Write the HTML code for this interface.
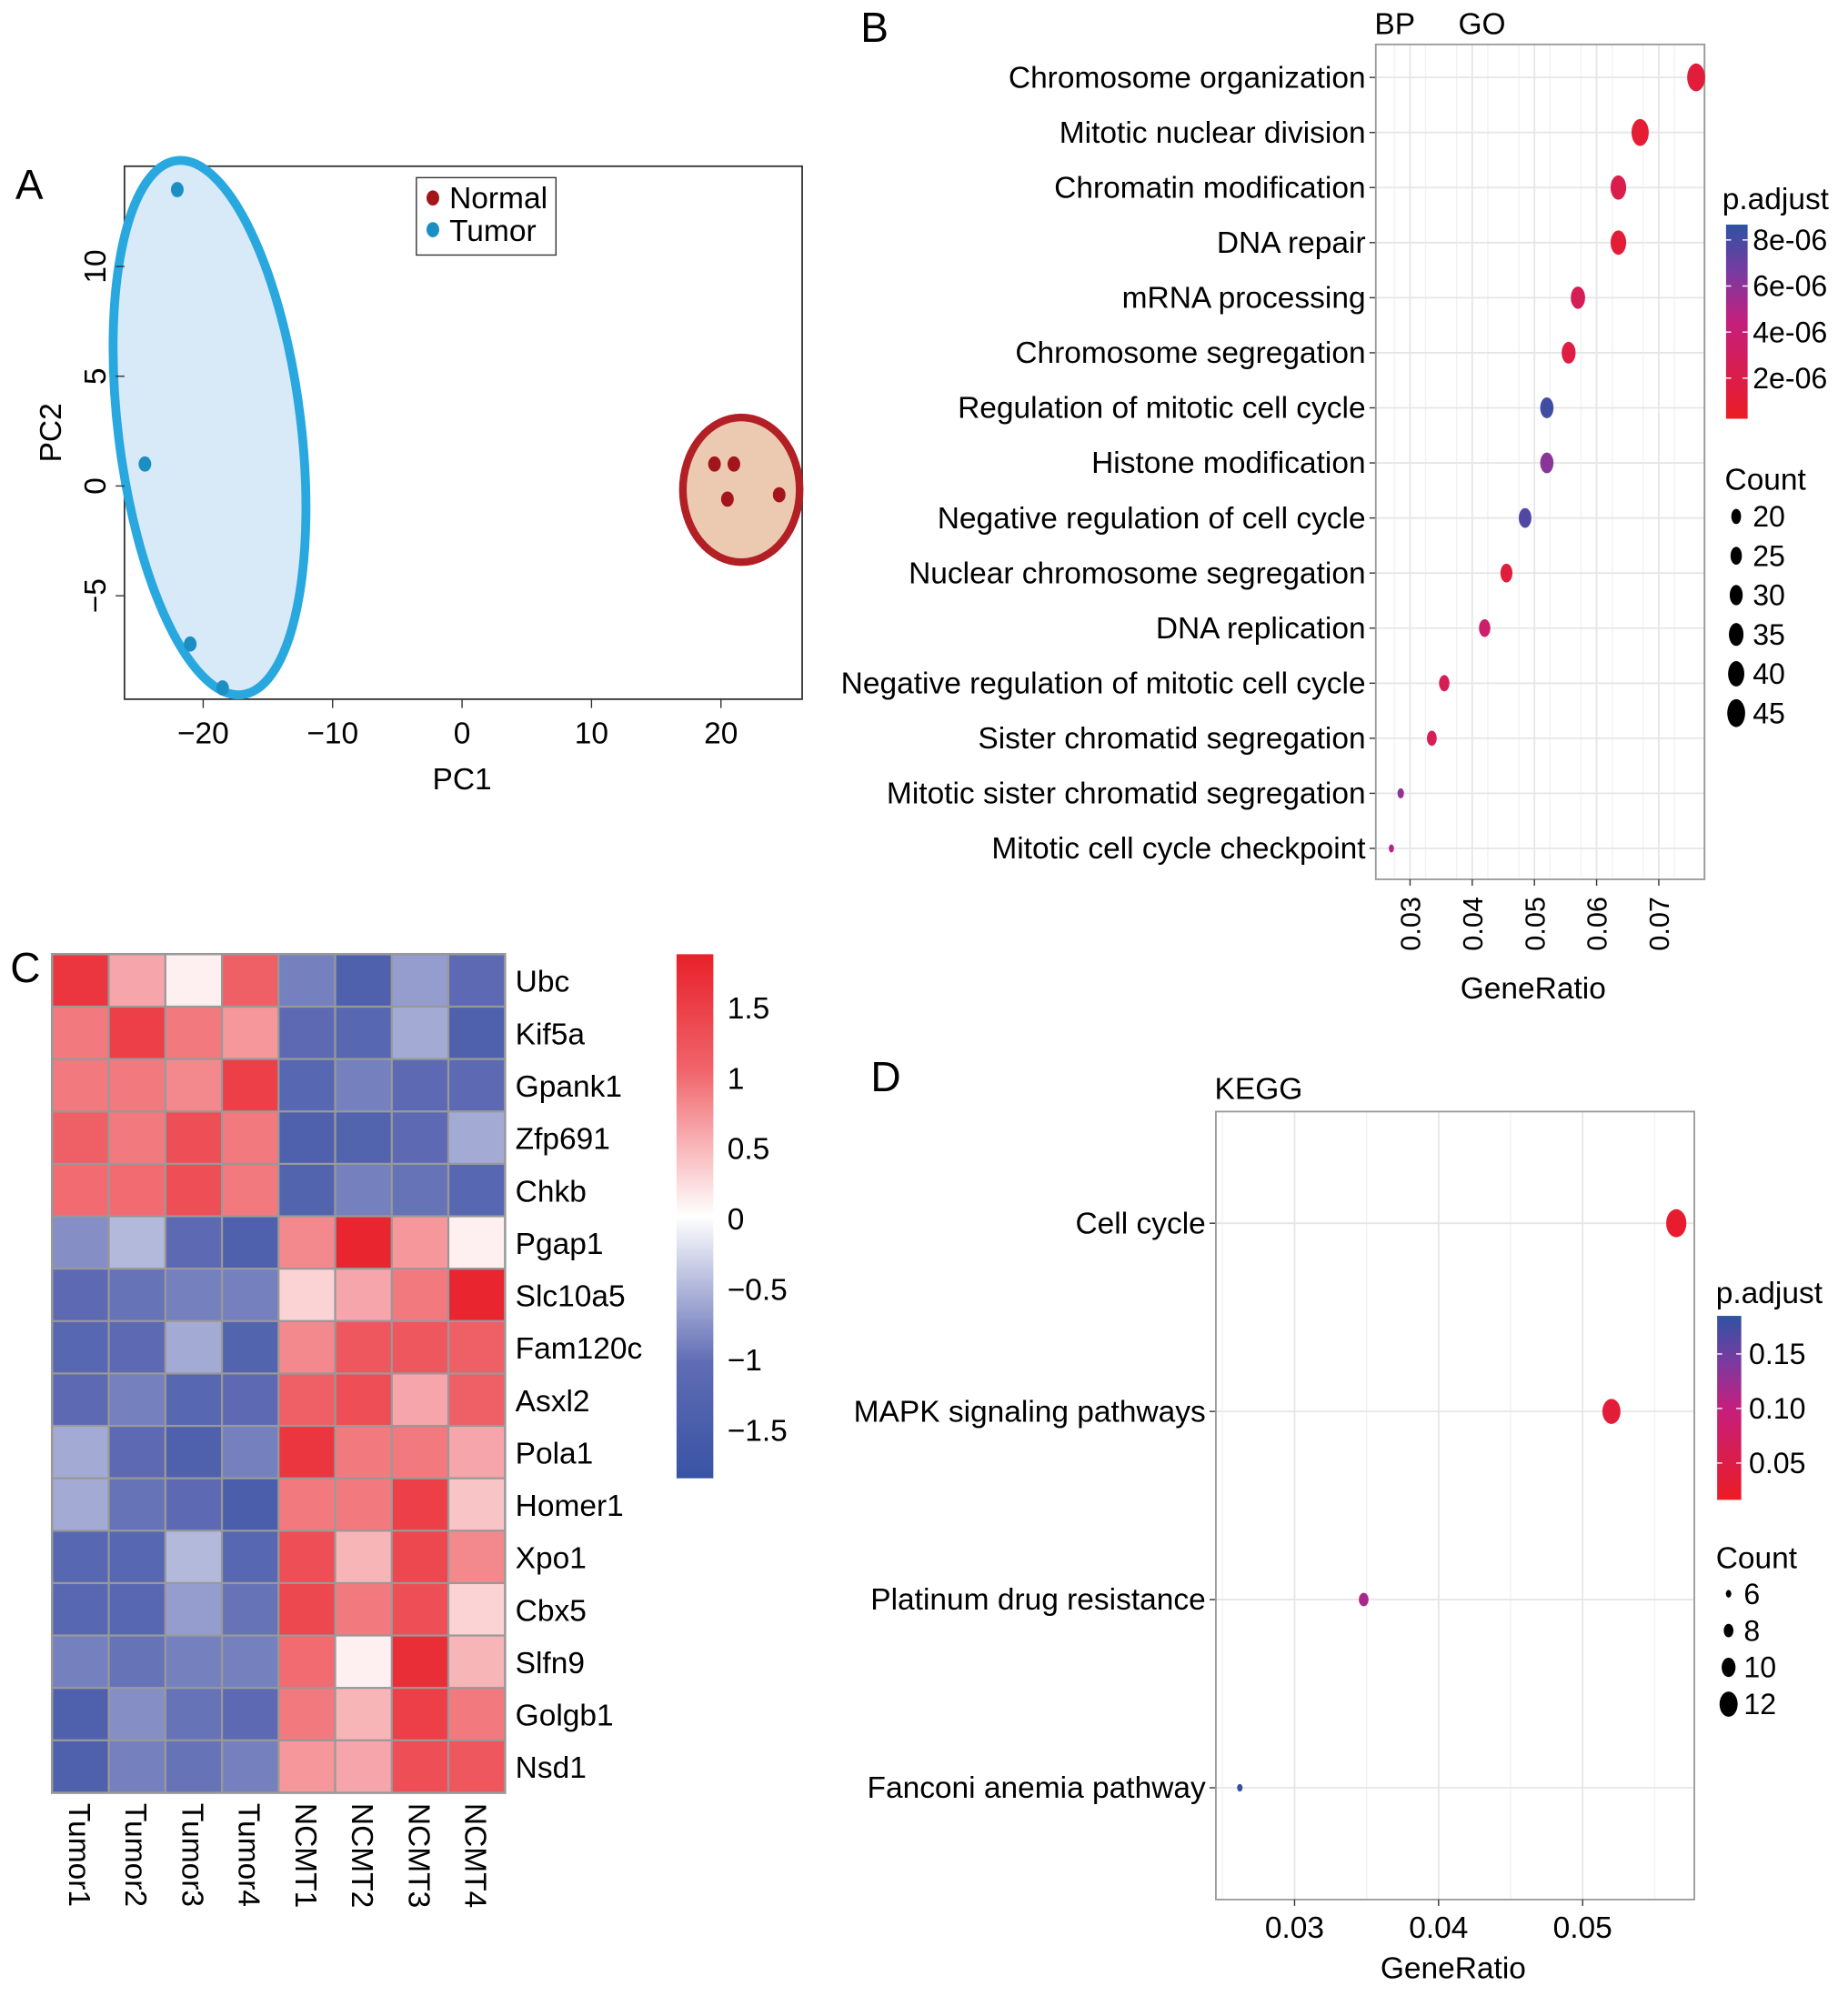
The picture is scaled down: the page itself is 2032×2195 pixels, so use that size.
<!DOCTYPE html>
<html><head><meta charset="utf-8"><style>
html,body{margin:0;padding:0;background:#fff;}
svg{display:block;font-family:"Liberation Sans",Arial,sans-serif;}
</style></head><body>
<svg id="fig" width="2032" height="2195" viewBox="0 0 1456 1573" xmlns="http://www.w3.org/2000/svg">
<defs>
<linearGradient id="gB" x1="0" y1="1" x2="0" y2="0"><stop offset="0" stop-color="#ec1c24"/><stop offset="0.5" stop-color="#c41f7e"/><stop offset="0.75" stop-color="#7a3aa0"/><stop offset="1" stop-color="#2f53a3"/></linearGradient>
<linearGradient id="gC" x1="0" y1="1" x2="0" y2="0"><stop offset="0" stop-color="#3953a4"/><stop offset="0.22" stop-color="#5f6cb4"/><stop offset="0.5" stop-color="#ffffff"/><stop offset="0.78" stop-color="#f0646a"/><stop offset="1" stop-color="#e8202a"/></linearGradient>
</defs>
<g id="panelA"></g>
<g id="panelB"></g>
<g id="panelC"></g>
<g id="panelD"></g>
</svg>
<script>
// ---------- Panel A data ----------
const pcaTumorX = [-22, -24.5, -21, -18.5];
const pcaTumorY = [13.5, 1, -7.2, -9.2];
const pcaNormalX = [19.5, 21, 20.5, 24.5];
const pcaNormalY = [1, 1, -0.6, -0.4];
const pcaXTicks = [-20, -10, 0, 10, 20];
const pcaYTicks = [-5, 0, 5, 10];
// ---------- Panel B data ----------
const goTerms = ["Chromosome organization","Mitotic nuclear division","Chromatin modification","DNA repair","mRNA processing","Chromosome segregation","Regulation of mitotic cell cycle","Histone modification","Negative regulation of cell cycle","Nuclear chromosome segregation","DNA replication","Negative regulation of mitotic cell cycle","Sister chromatid segregation","Mitotic sister chromatid segregation","Mitotic cell cycle checkpoint"];
const goRatio = [0.076,0.067,0.0635,0.0635,0.057,0.0555,0.052,0.052,0.0485,0.0455,0.042,0.0355,0.0335,0.0285,0.027];
const goCount = [45,43,38,38,34,33,31,31,29,27,25,22,20,10,6];
const goPadj = [1.2e-6,0.8e-6,2e-6,0.9e-6,2.5e-6,1.5e-6,8.5e-6,6.3e-6,8e-6,1.2e-6,3.5e-6,2.5e-6,2.5e-6,6e-6,5e-6];
const goXTicks = [0.03,0.04,0.05,0.06,0.07];
const goPTicks = [2e-6,4e-6,6e-6,8e-6];
const goCountLegend = [20,25,30,35,40,45];
// ---------- Panel C data ----------
const genes = ["Ubc","Kif5a","Gpank1","Zfp691","Chkb","Pgap1","Slc10a5","Fam120c","Asxl2","Pola1","Homer1","Xpo1","Cbx5","Slfn9","Golgb1","Nsd1"];
const samples = ["Tumor1","Tumor2","Tumor3","Tumor4","NCMT1","NCMT2","NCMT3","NCMT4"];
const heatRow0 = [1.6,0.6,0.1,1.1,-0.9,-1.4,-0.7,-1.1];
const heatRow1 = [0.9,1.5,0.9,0.7,-1.1,-1.2,-0.6,-1.4];
const heatRow2 = [0.9,0.9,0.8,1.5,-1.2,-0.9,-1.1,-1.1];
const heatRow3 = [1.1,0.9,1.3,0.9,-1.4,-1.3,-1.1,-0.6];
const heatRow4 = [1.0,1.0,1.3,0.9,-1.3,-0.9,-1.0,-1.2];
const heatRow5 = [-0.8,-0.5,-1.1,-1.4,0.8,1.8,0.7,0.1];
const heatRow6 = [-1.1,-1.0,-0.9,-0.9,0.3,0.6,0.9,1.8];
const heatRow7 = [-1.2,-1.1,-0.6,-1.3,0.8,1.2,1.2,1.1];
const heatRow8 = [-1.1,-0.9,-1.2,-1.1,1.1,1.3,0.6,1.1];
const heatRow9 = [-0.6,-1.1,-1.4,-0.9,1.6,0.9,0.9,0.6];
const heatRow10 = [-0.6,-1.0,-1.1,-1.5,0.9,0.9,1.5,0.4];
const heatRow11 = [-1.2,-1.2,-0.5,-1.2,1.3,0.5,1.4,0.8];
const heatRow12 = [-1.2,-1.2,-0.7,-1.0,1.4,0.9,1.3,0.3];
const heatRow13 = [-0.9,-1.0,-0.9,-0.9,1.0,0.1,1.7,0.5];
const heatRow14 = [-1.4,-0.8,-1.0,-1.1,0.9,0.5,1.5,0.9];
const heatRow15 = [-1.4,-0.9,-1.0,-0.9,0.7,0.6,1.3,1.2];
const heatTicks = [-1.5,-1,-0.5,0,0.5,1,1.5];
// ---------- Panel D data ----------
const keggTerms = ["Cell cycle","MAPK signaling pathways","Platinum drug resistance","Fanconi anemia pathway"];
const keggRatio = [0.0565,0.052,0.0348,0.0262];
const keggCount = [13,12,8,6];
const keggPadj = [0.01,0.02,0.11,0.18];
const keggXTicks = [0.03,0.04,0.05];
const keggPTicks = [0.05,0.10,0.15];
const keggCountLegend = [6,8,10,12];

const NS="http://www.w3.org/2000/svg";
const FS=24;
function mk(parent, tag, attrs, text){const e=document.createElementNS(NS,tag);for(const k in attrs)e.setAttribute(k,attrs[k]);if(text!==undefined)e.textContent=text;parent.appendChild(e);return e;}
function lerp(a,b,t){return a+(b-a)*t;}
function hex(c){return [parseInt(c.slice(1,3),16),parseInt(c.slice(3,5),16),parseInt(c.slice(5,7),16)];}
function mixStops(stops,t){t=Math.max(0,Math.min(1,t));for(let i=0;i<stops.length-1;i++){if(t<=stops[i+1][0]){const u=(t-stops[i][0])/(stops[i+1][0]-stops[i][0]);const a=hex(stops[i][1]),b=hex(stops[i+1][1]);return `rgb(${Math.round(lerp(a[0],b[0],u))},${Math.round(lerp(a[1],b[1],u))},${Math.round(lerp(a[2],b[2],u))})`;}}return stops[stops.length-1][1];}
const pStops=[[0,"#ec1c24"],[0.5,"#c41f7e"],[0.75,"#7a3aa0"],[1,"#2f53a3"]];
const hStops=[[0,"#3953a4"],[0.22,"#5f6cb4"],[0.5,"#ffffff"],[0.78,"#f0646a"],[1,"#e8202a"]];

// ================= Panel A =================
(function(){
const g=document.getElementById('panelA');
const xs=v=>364+v*10.2, ys=v=>383-v*17.3;
let t=mk(g,'text',{x:12,y:157,'font-size':33},'A');  
let r=mk(g,'rect',{x:98,y:131,width:534,height:420,fill:'none',stroke:'#333','stroke-width':1.3});  
let e=mk(g,'ellipse',{cx:165,cy:337,rx:72,ry:212,fill:'#d8e9f8',stroke:'#29a8e0','stroke-width':7,transform:'rotate(-7 165 337)'});  
e=mk(g,'ellipse',{cx:584,cy:386,rx:46,ry:57,fill:'#eccab2',stroke:'#b21f24','stroke-width':6});  
pcaTumorX.forEach((v,i)=>{const c=mk(g,'ellipse',{cx:xs(v),cy:ys(pcaTumorY[i]),rx:5,ry:6,fill:'#1b8fc4'});});
pcaNormalX.forEach((v,i)=>{const c=mk(g,'ellipse',{cx:xs(v),cy:ys(pcaNormalY[i]),rx:5,ry:6,fill:'#a3151b'});});
pcaXTicks.forEach(v=>{mk(g,'line',{x1:xs(v),x2:xs(v),y1:551,y2:558,stroke:'#333'});const l=mk(g,'text',{x:xs(v),y:586,'font-size':FS,'text-anchor':'middle'},v<0?'\u2212'+(-v):String(v));});
pcaYTicks.forEach(v=>{mk(g,'line',{x1:91,x2:98,y1:ys(v),y2:ys(v),stroke:'#333'});const l=mk(g,'text',{x:83,y:ys(v),'font-size':FS,'text-anchor':'middle',transform:`rotate(-90 83 ${ys(v)})`},v<0?'\u2212'+(-v):String(v));});
t=mk(g,'text',{x:364,y:622,'font-size':FS,'text-anchor':'middle'},'PC1');  
t=mk(g,'text',{x:48,y:341,'font-size':FS,'text-anchor':'middle',transform:'rotate(-90 48 341)'},'PC2');  
const lg=mk(g,'g',{});  
mk(lg,'rect',{x:328,y:140,width:110,height:61,fill:'#fff',stroke:'#333','stroke-width':1});
mk(lg,'ellipse',{cx:341,cy:156,rx:5,ry:6,fill:'#a3151b'});
mk(lg,'ellipse',{cx:341,cy:181,rx:5,ry:6,fill:'#1b8fc4'});
t=mk(lg,'text',{x:354,y:164,'font-size':FS},'Normal');  
t=mk(lg,'text',{x:354,y:190,'font-size':FS},'Tumor');  
})();

// ================= Panel B =================
(function(){
const g=document.getElementById('panelB');
const x0=1084,x1=1343,y0=35,y1=693;
const xs=v=>1111+(v-0.03)*4900;
const rowY=i=>61+i*43.4;
const pmax=9e-6;
let t=mk(g,'text',{x:678,y:33,'font-size':33},'B');  
t=mk(g,'text',{x:1083,y:27,'font-size':FS},'BP');  
t=mk(g,'text',{x:1149,y:27,'font-size':FS},'GO');  
mk(g,'rect',{x:x0,y:y0,width:x1-x0,height:y1-y0,fill:'#fff'});
for(let v=0.0275;v<0.078;v+=0.005){mk(g,'line',{x1:xs(v),x2:xs(v),y1:y0,y2:y1,stroke:'#f2f2f2','stroke-width':1});}
goXTicks.forEach(v=>mk(g,'line',{x1:xs(v),x2:xs(v),y1:y0,y2:y1,stroke:'#e6e6e6','stroke-width':1.3}));
goTerms.forEach((s,i)=>{mk(g,'line',{x1:x0,x2:x1,y1:rowY(i),y2:rowY(i),stroke:'#e6e6e6','stroke-width':1.3});mk(g,'line',{x1:x0-5,x2:x0,y1:rowY(i),y2:rowY(i),stroke:'#333'});const l=mk(g,'text',{x:1076,y:rowY(i)+8,'font-size':FS,'text-anchor':'end'},s);});
mk(g,'rect',{x:x0,y:y0,width:x1-x0,height:y1-y0,fill:'none',stroke:'#999','stroke-width':1.3});
const ry=c=>Math.max(1.5,6+(c-20)*0.2);
goRatio.forEach((v,i)=>{const d=mk(g,'ellipse',{cx:xs(v),cy:rowY(i),rx:ry(goCount[i])*0.64,ry:ry(goCount[i]),fill:mixStops(pStops,goPadj[i]/pmax)});});
goXTicks.forEach(v=>{mk(g,'line',{x1:xs(v),x2:xs(v),y1:y1,y2:y1+5,stroke:'#333'});const l=mk(g,'text',{x:xs(v)+8,y:728,'font-size':22,'text-anchor':'middle',transform:`rotate(-90 ${xs(v)+8} 728)`},v.toFixed(2));});
t=mk(g,'text',{x:1208,y:787,'font-size':FS,'text-anchor':'middle'},'GeneRatio');  
const cbTop=177,cbBot=330;
t=mk(g,'text',{x:1357,y:165,'font-size':FS},'p.adjust');  
const cb=mk(g,'rect',{x:1360,y:cbTop,width:17,height:cbBot-cbTop,fill:'url(#gB)'});  
goPTicks.forEach(v=>{const y=298-(v-2e-6)/2e-6*36.3;mk(g,'line',{x1:1360,x2:1364,y1:y,y2:y,stroke:'#fff'});mk(g,'line',{x1:1373,x2:1377,y1:y,y2:y,stroke:'#fff'});const l=mk(g,'text',{x:1381,y:y+8,'font-size':23},(v*1e6)+'e-06');});
t=mk(g,'text',{x:1359,y:386,'font-size':FS},'Count');  
goCountLegend.forEach((c,i)=>{const y=407+i*31;mk(g,'ellipse',{cx:1368,cy:y,rx:ry(c)*0.64,ry:ry(c),fill:'#000'});const l=mk(g,'text',{x:1381,y:y+8,'font-size':23},String(c));});
})();

// ================= Panel C =================
(function(){
const g=document.getElementById('panelC');
const rows=[heatRow0,heatRow1,heatRow2,heatRow3,heatRow4,heatRow5,heatRow6,heatRow7,heatRow8,heatRow9,heatRow10,heatRow11,heatRow12,heatRow13,heatRow14,heatRow15];
const x0=41,y0=752,cw=44.6,ch=41.3;
const vmax=1.87;
const col=v=>mixStops(hStops,(v+vmax)/(2*vmax));
let t=mk(g,'text',{x:8,y:774,'font-size':33},'C');  
mk(g,'rect',{x:x0-1,y:y0-1,width:cw*8+2,height:ch*16+2,fill:'#999'});
rows.forEach((row,i)=>{row.forEach((v,j)=>{const c=mk(g,'rect',{x:x0+j*cw+0.8,y:y0+i*ch+0.8,width:cw-1.6,height:ch-1.6,fill:col(v)});});
const l=mk(g,'text',{x:406,y:y0+i*ch+ch/2+9,'font-size':FS},genes[i]);});
samples.forEach((s,j)=>{const x=x0+j*cw+cw/2-9;const l=mk(g,'text',{x:x,y:1421,'font-size':FS,transform:`rotate(90 ${x} 1421)`},s);});
const cb=mk(g,'rect',{x:533,y:752,width:29,height:413,fill:'url(#gC)'});  
heatTicks.forEach(v=>{const y=960-v*111;const l=mk(g,'text',{x:573,y:y+9,'font-size':FS},v<0?'\u2212'+(-v):String(v));});
})();

// ================= Panel D =================
(function(){
const g=document.getElementById('panelD');
const x0=958,x1=1335,y0=876,y1=1497;
const xs=v=>1020+(v-0.03)*11350;
const rowY=i=>964+i*148.3;
const pmax=0.185;
let t=mk(g,'text',{x:686,y:860,'font-size':33},'D');  
t=mk(g,'text',{x:957,y:866,'font-size':FS},'KEGG');  
for(let v=0.025;v<0.058;v+=0.005){mk(g,'line',{x1:xs(v),x2:xs(v),y1:y0,y2:y1,stroke:'#f2f2f2','stroke-width':1});}
keggXTicks.forEach(v=>mk(g,'line',{x1:xs(v),x2:xs(v),y1:y0,y2:y1,stroke:'#e6e6e6','stroke-width':1.3}));
keggTerms.forEach((s,i)=>{mk(g,'line',{x1:x0,x2:x1,y1:rowY(i),y2:rowY(i),stroke:'#e6e6e6','stroke-width':1.3});mk(g,'line',{x1:x0-5,x2:x0,y1:rowY(i),y2:rowY(i),stroke:'#333'});const l=mk(g,'text',{x:950,y:rowY(i)+8,'font-size':FS,'text-anchor':'end'},s);});
mk(g,'rect',{x:x0,y:y0,width:x1-x0,height:y1-y0,fill:'none',stroke:'#999','stroke-width':1.3});
const ry=c=>Math.max(1.8,3+(c-6)*1.15);
keggRatio.forEach((v,i)=>{const d=mk(g,'ellipse',{cx:xs(v),cy:rowY(i),rx:ry(keggCount[i])*0.72,ry:ry(keggCount[i]),fill:mixStops(pStops,keggPadj[i]/pmax)});});
keggXTicks.forEach(v=>{mk(g,'line',{x1:xs(v),x2:xs(v),y1:y1,y2:y1+5,stroke:'#333'});const l=mk(g,'text',{x:xs(v),y:1527,'font-size':FS,'text-anchor':'middle'},v.toFixed(2));});
t=mk(g,'text',{x:1145,y:1559,'font-size':FS,'text-anchor':'middle'},'GeneRatio');  
t=mk(g,'text',{x:1352,y:1027,'font-size':FS},'p.adjust');  
const cb=mk(g,'rect',{x:1353,y:1037,width:19,height:145,fill:'url(#gB)'});  
keggPTicks.forEach(v=>{const y=1196-v*860;mk(g,'line',{x1:1353,x2:1357,y1:y,y2:y,stroke:'#fff'});mk(g,'line',{x1:1368,x2:1372,y1:y,y2:y,stroke:'#fff'});const l=mk(g,'text',{x:1378,y:y+8,'font-size':23},v.toFixed(2));});
t=mk(g,'text',{x:1352,y:1236,'font-size':FS},'Count');  
keggCountLegend.forEach((c,i)=>{const y=1256+i*29;mk(g,'ellipse',{cx:1362,cy:y,rx:ry(c)*0.72,ry:ry(c),fill:'#000'});const l=mk(g,'text',{x:1374,y:y+8,'font-size':23},String(c));});
})();
</script>
</body></html>
